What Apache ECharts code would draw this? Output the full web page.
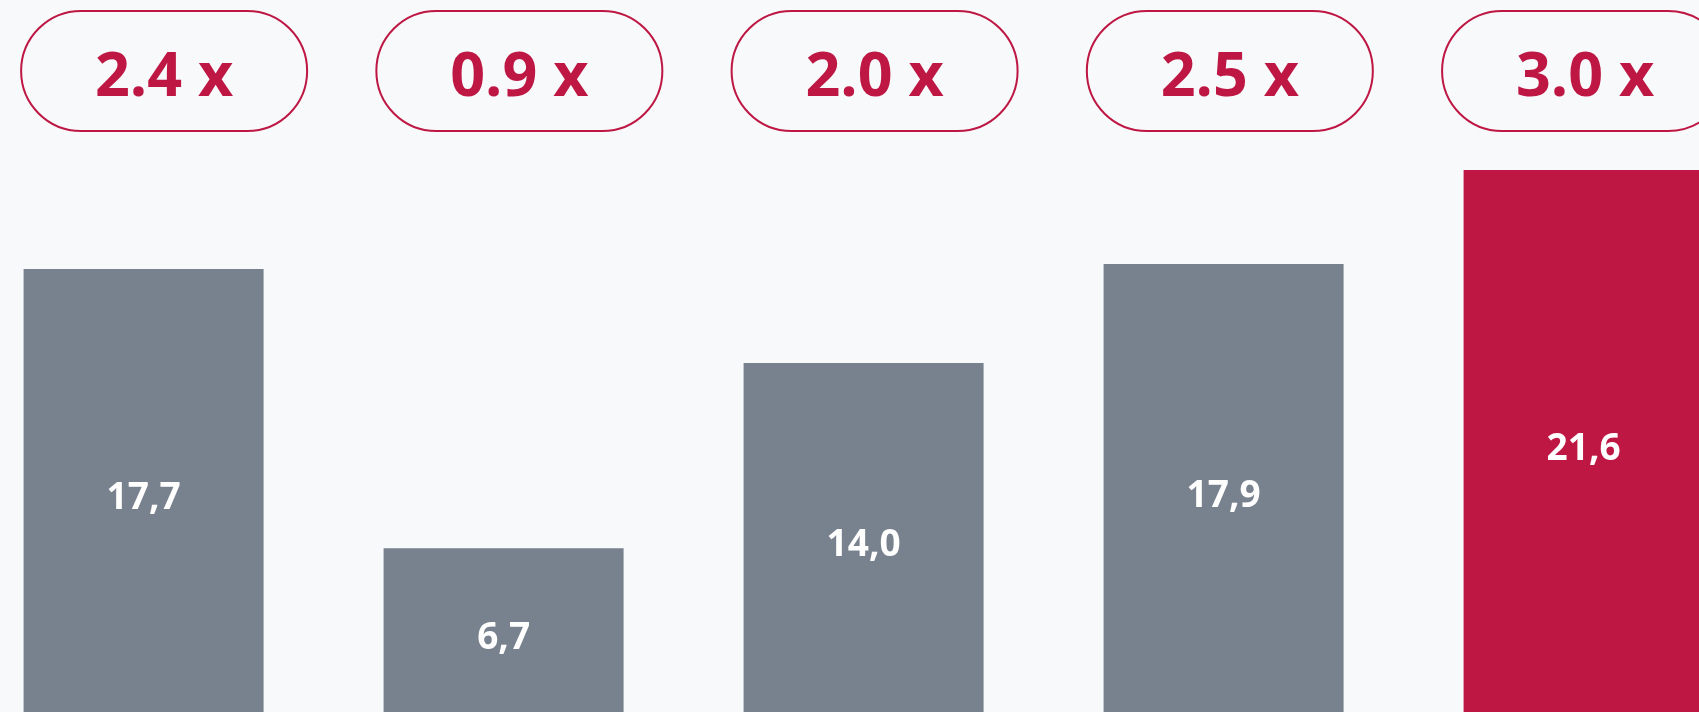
<!DOCTYPE html>
<html>
<head>
<meta charset="utf-8">
<script src="https://cdn.jsdelivr.net/npm/echarts@6/dist/echarts.min.js"></script>
<style>
  html, body { margin: 0; padding: 0; background: #F7F9FB; }
  #chart { width: 1699px; height: 712px; }
</style>
</head>
<body>
<div id="chart"></div>
<script>
// data
const categories = ['1', '2', '3', '4', '5'];
const values = [17.7, 6.7, 14.0, 17.9, 21.6];
const multiples = [2.4, 0.9, 2.0, 2.5, 3.0];

const GREY = '#78818E';
const RED = '#BE1743';
const FONT = '"Open Sans", "Noto Sans", sans-serif';

const chart = echarts.init(document.getElementById('chart'));

chart.setOption({
    backgroundColor: '#F7F9FB',
    animation: false,
    grid: [
        // bars run past both edges and below the bottom of the window
        {left: -36.4, width: 1800, top: 83.8, height: 634.5, outerBoundsMode: 'none', containLabel: false},
        // thin strip that only carries the "x" pills
        {left: -13.5, width: 1776.2, top: 133, height: 1, outerBoundsMode: 'none', containLabel: false}
    ],
    xAxis: [
        {type: 'category', gridIndex: 0, data: categories, show: false},
        {
            type: 'category',
            gridIndex: 1,
            position: 'top',
            data: multiples.map(m => m.toFixed(1) + ' x'),
            axisLine: {show: false},
            axisTick: {show: false},
            axisLabel: {
                interval: 0,
                margin: 2,
                color: RED,
                fontFamily: FONT,
                fontWeight: 'bold',
                fontSize: 61,
                width: 286,
                height: 104,
                lineHeight: 104,
                padding: [16, 0, 0, 0],
                align: 'center',
                borderColor: RED,
                borderWidth: 2,
                // oversized on purpose, zrender clamps it to a full half-circle
                borderRadius: 100
            }
        }
    ],
    yAxis: [
        {type: 'value', gridIndex: 0, min: 0, max: 25, show: false},
        {type: 'value', gridIndex: 1, show: false}
    ],
    series: [
        {
            type: 'bar',
            data: values,
            barWidth: 240,
            itemStyle: {
                color: p => p.dataIndex === values.length - 1 ? RED : GREY
            },
            label: {
                show: true,
                position: 'inside',
                offset: [0, 5],
                color: '#fff',
                fontFamily: FONT,
                fontWeight: 'bold',
                fontSize: 37,
                formatter: p => p.value.toFixed(1).replace('.', ',')
            }
        }
    ]
});
</script>
</body>
</html>
